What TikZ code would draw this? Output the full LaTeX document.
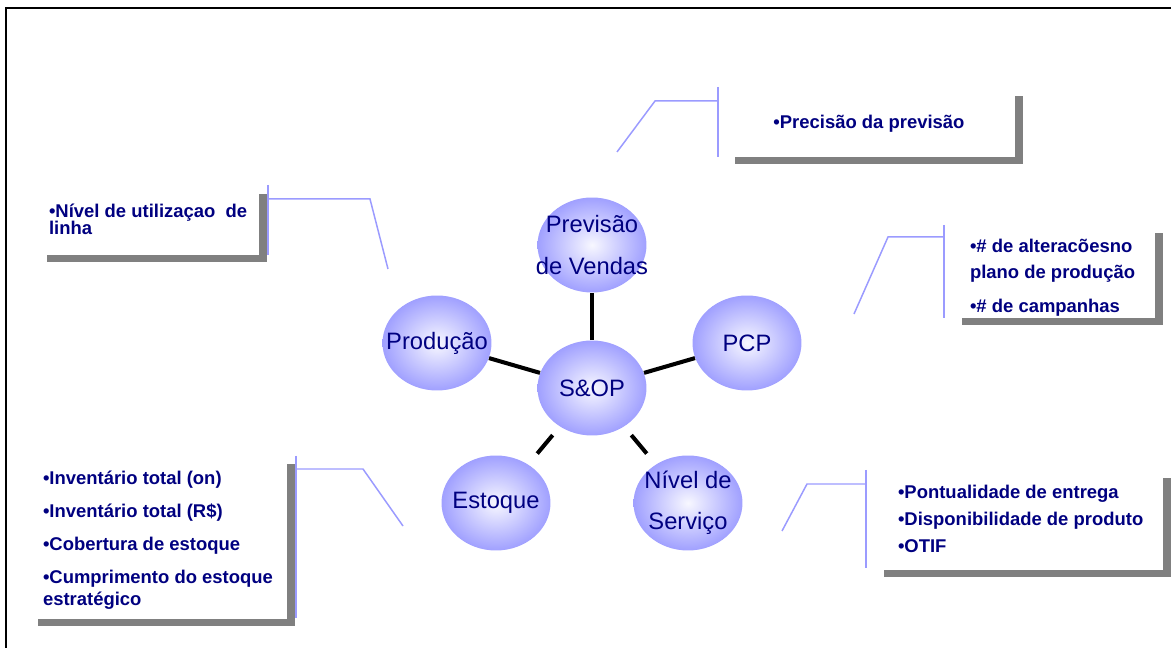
\documentclass[tikz,border=0pt]{standalone}
\usepackage{fontspec}
\setmainfont{Liberation Sans}
\definecolor{ballblue}{RGB}{160, 160, 255}
\definecolor{leaderblue}{RGB}{155, 155, 255}
\definecolor{textnavy}{RGB}{0, 0, 128}
\definecolor{shadegray}{RGB}{128, 128, 128}
\usepackage{tikz}
\usetikzlibrary{shapes.geometric}

\begin{document}
\begin{tikzpicture}[x=0.02cm, y=-0.02cm,
  topic/.style={ellipse, minimum width=2.18cm, minimum height=1.9cm, inner sep=0pt,
    shading=radial, inner color=white!92!ballblue, outer color=ballblue},
  topictext/.style={text=textnavy, font=\fontsize{13.5}{23.5}\selectfont, align=center},
  spoke/.style={line width=2.3pt},
  shortspoke/.style={spoke, shorten <=0.22cm, shorten >=0.28cm},
  kpibox/.style={fill=white, inner sep=0pt},
  kpitext/.style={text=textnavy, font=\bfseries\fontsize{10.5}{12.5}\selectfont, align=left, inner sep=0pt},
  leader/.style={leaderblue, line width=0.85pt}]

  \useasboundingbox (0,0) rectangle (1171,648);
  \draw[line width=1.1pt] (6,648) -- (6,8) -- (1171,8);

  % S&OP hub and its five areas
  \node[topic, label={[topictext]center:S\&OP}] (sop) at (592,388) {};
  \node[topic, label={[topictext]center:{Previsão\\de Vendas}}] (prev) at (592,245) {};
  \node[topic, label={[topictext]center:Produção}] (prod) at (437,343) {};
  \node[topic, label={[topictext]center:PCP}] (pcp) at (747,343) {};
  \node[topic, label={[topictext]center:Estoque}] (est) at (496,503) {};
  \node[topic, label={[topictext]center:{Nível de\\Serviço}}] (serv) at (688,503) {};
  \foreach \n in {prev, prod, pcp} {
    \draw[spoke] (sop) -- (\n);
  }
  \foreach \n in {est, serv} {
    \draw[shortspoke] (sop) -- (\n);
  }

  % Indicator boxes
  \node[kpibox, minimum width=5.6cm, minimum height=1.22cm] (b1) at (875,126.5) {};
  \node[kpibox, minimum width=4.24cm, minimum height=1.22cm] (b2) at (153,224.5) {};
  \node[kpibox, minimum width=3.86cm, minimum height=1.7cm] (b3) at (1058.5,275.5) {};
  \node[kpibox, minimum width=4.98cm, minimum height=3.1cm] (b4) at (162.5,541.5) {};
  \node[kpibox, minimum width=5.58cm, minimum height=1.84cm] (b5) at (1023.5,524) {};
  \foreach \b in {b1, b2, b3, b4, b5} {
    \fill[shadegray] (\b.north east) rectangle ([shift={(8,7)}]\b.south east);
    \fill[shadegray] (\b.south west) rectangle ([shift={(8,7)}]\b.south east);
  }

  \node[kpitext, align=center] (t1) at (869,123.5) {•Precisão da previsão};
  \node[kpitext, anchor=west] (t2) at ([shift={(2,-5)}]b2.west)
    {•Nível de utilizaçao~ de\\[-2.8pt]linha};
  \node[kpitext, anchor=west] (t3) at ([shift={(8,2)}]b3.west)
    {•\# de alteracõesno\\[2.3pt]plano de produção\\[6.8pt]•\# de campanhas};
  \node[kpitext, anchor=west] (t4) at ([shift={(5,-1.5)}]b4.west)
    {•Inventário total (on)\\[6.3pt]•Inventário total (R\$)\\[6.3pt]•Cobertura de estoque\\[6.3pt]•Cumprimento do estoque\\estratégico};
  \node[kpitext, anchor=west] (t5) at ([shift={(14,-5)}]b5.west)
    {•Pontualidade de entrega\\[2.9pt]•Disponibilidade de produto\\[2.9pt]•OTIF};

  % Callout leaders
  \foreach \bx/\ya/\yb/\ky/\kx/\ex/\ey in {718/87/157/101/655/617/152, 268/185/255/199/370/388/269,
      944/225/318/237/888/854/314, 296/456/618/469/363/403/526, 866/470/568/484/807/782/531} {
    \draw[leader] (\bx,\ya) -- (\bx,\yb);
    \draw[leader] (\bx,\ky) -- (\kx,\ky) -- (\ex,\ey);
  }
\end{tikzpicture}
\end{document}
